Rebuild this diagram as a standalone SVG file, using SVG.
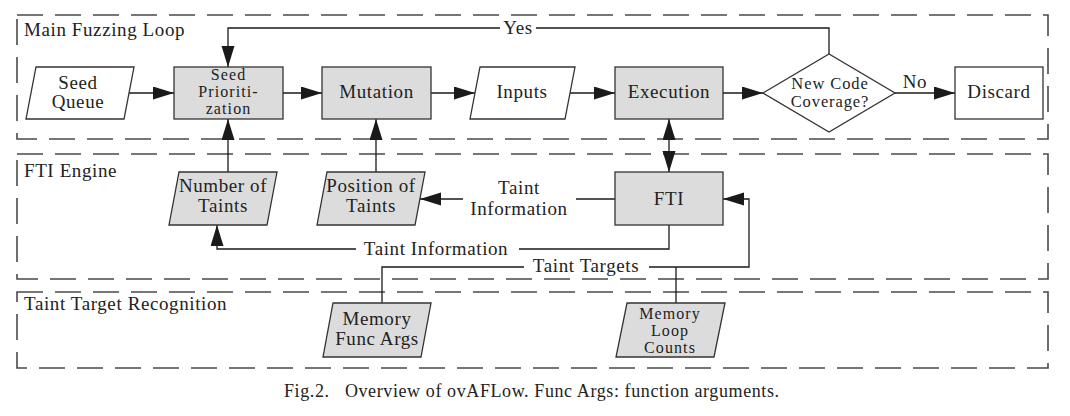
<svg xmlns="http://www.w3.org/2000/svg" width="1070" height="416" viewBox="0 0 1070 416">
<defs>
<marker id="ah" markerUnits="userSpaceOnUse" markerWidth="22" markerHeight="14" refX="21" refY="6.5" orient="auto-start-reverse"><path d="M0,0 L21,6.5 L0,13 z" fill="#1a1a1a"/></marker>
</defs>
<style>
.frame{fill:none;stroke:#4a4a4a;stroke-width:1.6;stroke-dasharray:26 12}
.node{stroke:#333;stroke-width:1.3}
.shade{fill:#dcdcdc}
.plain{fill:#fff}
.t{font-family:"Liberation Serif","Times New Roman","DejaVu Serif",serif;font-size:19px;letter-spacing:0.6px;fill:#222}
.s{font-size:16px;letter-spacing:1.1px}
.d{font-size:16.5px;letter-spacing:0.9px}
.cap{font-size:18px}
.c{text-anchor:middle}
.ln{fill:none;stroke:#1a1a1a;stroke-width:1.3}
.arr{marker-end:url(#ah)}
</style>
<rect x="0" y="0" width="1070" height="416" fill="#fff"/>
<g id="frames">
<rect class="frame" x="17" y="15" width="1031" height="124"/>
<rect class="frame" x="17" y="154" width="1031" height="125"/>
<rect class="frame" x="17" y="292" width="1031" height="76"/>
<text class="t" x="24" y="36">Main Fuzzing Loop</text>
<text class="t" x="24" y="177">FTI Engine</text>
<text class="t" x="24" y="310">Taint Target Recognition</text>
</g>
<g id="connectors">
<path class="ln arr" d="M129,93 H174"/>
<path class="ln arr" d="M283,93 H322"/>
<path class="ln arr" d="M431,93 H475"/>
<path class="ln arr" d="M570,93 H615"/>
<path class="ln arr" d="M723,93 H763"/>
<path class="ln arr" d="M895,93 H955"/>
<path class="ln" d="M829,54 V28 H536"/>
<path class="ln arr" d="M500,28 H228 V67"/>
<path class="ln arr" d="M228,172 V119"/>
<path class="ln arr" d="M376,172 V119"/>
<path class="ln arr" d="M669,119 V172" marker-start="url(#ah)"/>
<path class="ln" d="M615,199 H576"/>
<path class="ln arr" d="M463,199 H420"/>
<path class="ln" d="M669,225 V249 H519"/>
<path class="ln arr" d="M356,249 H217 V225"/>
<path class="ln" d="M382,303 V267 H524"/>
<path class="ln arr" d="M649,267 H749 V199 H723"/>
<path class="ln" d="M676,303 V267"/>
<text class="t c" x="518" y="34">Yes</text>
<text class="t c" x="915" y="88">No</text>
<text class="t c" x="519" y="194">Taint</text>
<text class="t c" x="519" y="215">Information</text>
<text class="t c" x="436" y="255">Taint Information</text>
<text class="t c" x="586" y="272">Taint Targets</text>
</g>
<g id="seed-queue">
<polygon class="node plain" points="36,67 134,67 124,119 26,119"/>
<text class="t c" x="78" y="88.5">Seed</text>
<text class="t c" x="78" y="108">Queue</text>
</g>
<g id="seed-prioritization">
<rect class="node shade" x="174" y="67" width="109" height="52"/>
<text class="t s c" x="228.5" y="80">Seed</text>
<text class="t s c" x="228.5" y="97">Prioriti-</text>
<text class="t s c" x="228.5" y="114">zation</text>
</g>
<g id="mutation">
<rect class="node shade" x="322" y="67" width="109" height="52"/>
<text class="t c" x="376.5" y="98">Mutation</text>
</g>
<g id="inputs">
<polygon class="node plain" points="480,67 575,67 565,119 470,119"/>
<text class="t c" x="522" y="98">Inputs</text>
</g>
<g id="execution">
<rect class="node shade" x="615" y="67" width="108" height="52"/>
<text class="t c" x="669" y="98">Execution</text>
</g>
<g id="new-code-coverage">
<polygon class="node plain" points="763,93 829,54 895,93 829,132"/>
<text class="t d c" x="830" y="89">New Code</text>
<text class="t d c" x="830" y="107">Coverage?</text>
</g>
<g id="discard">
<rect class="node plain" x="955" y="67" width="88" height="52"/>
<text class="t c" x="999" y="98">Discard</text>
</g>
<g id="number-of-taints">
<polygon class="node shade" points="179,172 277,172 267,225 169,225"/>
<text class="t c" x="223" y="192">Number of</text>
<text class="t c" x="223" y="212">Taints</text>
</g>
<g id="position-of-taints">
<polygon class="node shade" points="327,172 425,172 415,225 317,225"/>
<text class="t c" x="371" y="192">Position of</text>
<text class="t c" x="371" y="212">Taints</text>
</g>
<g id="fti">
<rect class="node shade" x="615" y="172" width="108" height="53"/>
<text class="t c" x="669" y="205">FTI</text>
</g>
<g id="memory-func-args">
<polygon class="node shade" points="333,303 431,303 421,357 323,357"/>
<text class="t c" x="377" y="325">Memory</text>
<text class="t c" x="377" y="345">Func Args</text>
</g>
<g id="memory-loop-counts">
<polygon class="node shade" points="627,303 725,303 714,357 616,357"/>
<text class="t s c" x="670" y="319">Memory</text>
<text class="t s c" x="670" y="336">Loop</text>
<text class="t s c" x="670" y="353">Counts</text>
</g>
<text class="t cap" x="284" y="397">Fig.2.&#160;&#160; Overview of ovAFLow. Func Args: function arguments.</text>
</svg>
